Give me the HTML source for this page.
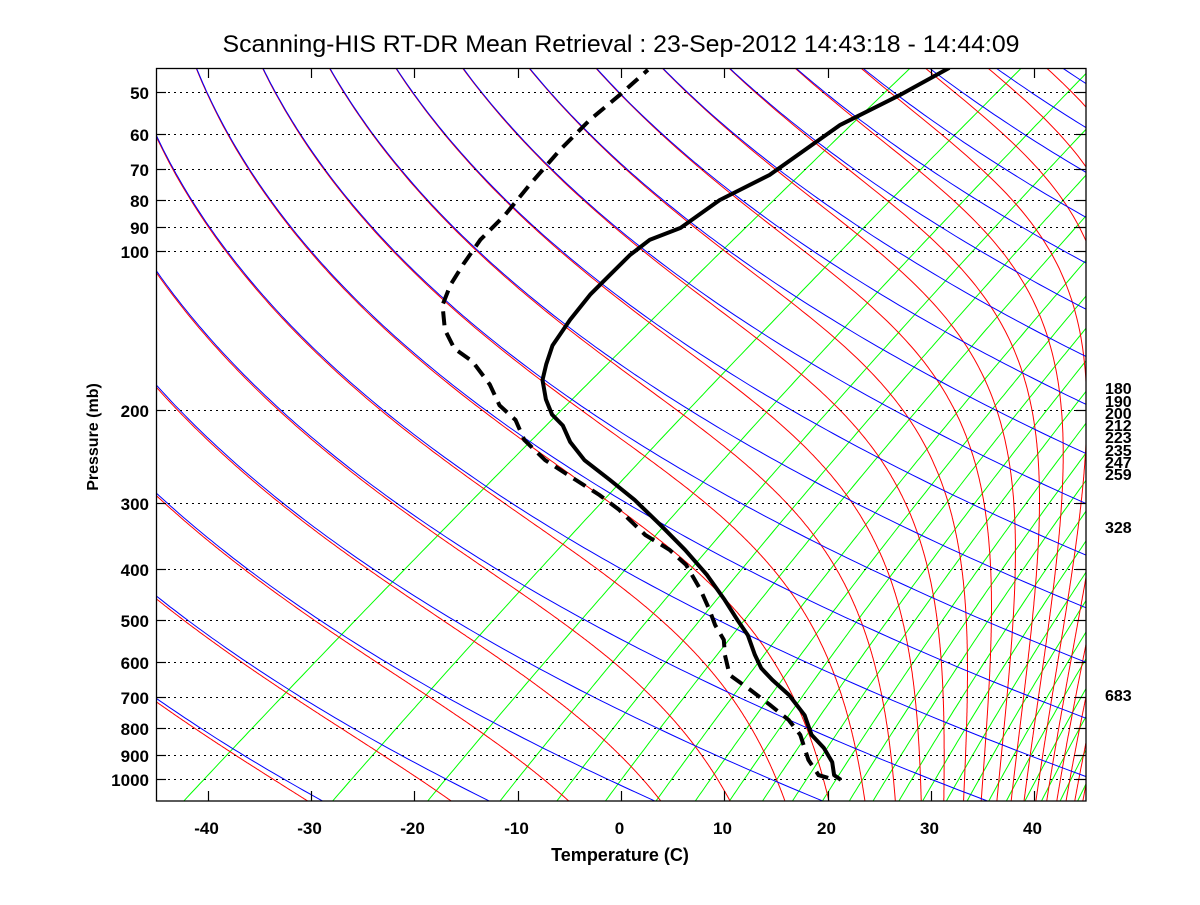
<!DOCTYPE html>
<html><head><meta charset="utf-8"><style>
html,body{margin:0;padding:0;background:#fff;}
svg text{font-family:"Liberation Sans",Arial,sans-serif;}
</style></head><body>
<svg id="chart" width="1200" height="900" viewBox="0 0 1200 900" xmlns="http://www.w3.org/2000/svg">
<rect x="0" y="0" width="1200" height="900" fill="#fff"/>
<defs><clipPath id="plotclip"><rect x="156" y="68" width="930" height="733"/></clipPath></defs>
<text x="621" y="52" font-size="24" text-anchor="middle" textLength="797" lengthAdjust="spacingAndGlyphs">Scanning-HIS RT-DR Mean Retrieval : 23-Sep-2012 14:43:18 - 14:44:09</text>
<g id="bg" clip-path="url(#plotclip)"></g>
<g id="grid"></g>
<g id="prof" clip-path="url(#plotclip)"></g>
<g id="axes"></g>
<text x="620" y="861" font-size="18" font-weight="bold" text-anchor="middle">Temperature (C)</text>
<text transform="translate(98,437) rotate(-90)" font-size="16" font-weight="bold" text-anchor="middle">Pressure (mb)</text>
<g id="rlab"></g>
</svg>
<script>
// ---- data ----
const tempP = [1004,983,929,873,825,757,693,649,617,582,534,500,458,411,368,330,296,271.5,249,230,214,204,191,175.5,164,151,135,121,111,101.8,95.2,90.4,80.1,71.8,57.7,50.7,45.0];
const tempT = [21.4,20.1,18.2,15.5,12.6,9.3,5.1,1.5,-1.1,-3.5,-6.8,-9.8,-13.7,-18.7,-24.2,-29.9,-35.7,-40.7,-45.8,-49.6,-52.5,-55.0,-57.6,-60.5,-62.2,-64.1,-65.8,-67.2,-67.9,-68.6,-68.7,-67.3,-67.2,-65.7,-65.5,-63.7,-62.5];
const dewP = [995,983,920,825,773,724,678,635,582,545,511,479,438,393,368,345,309,290,271.5,249,228,209,196,179,162,153,141,126.6,116,106,95.2,85.5,75.0,64.4,56.5,50.7,45.4];
const dewT = [19.9,18.6,15.6,11.5,8.4,4.6,0.7,-3.3,-6.4,-8.5,-11.3,-13.8,-17.4,-22.1,-25.7,-30.0,-35.9,-39.7,-44.0,-49.6,-54.3,-57.8,-61.3,-65.0,-69.7,-73.2,-76.6,-80.1,-82.0,-83.5,-85.1,-86.0,-87.6,-89.3,-90.4,-90.8,-91.4];
const pTicks = [50,60,70,80,90,100,200,300,400,500,600,700,800,900,1000];
const tTicks = [-40,-30,-20,-10,0,10,20,30,40];
const thetaDry = [193.6,209.2,224.8,240.5,256.2,271.8,287.6,303.1,318.8,334.5,350.1,365.8,381.4,397.1,412.7,428.4,444,459.7,475.3,491,506.6,522.3,537.9,553.6];
const thetaMoist = [193.6,209.2,224.8,240.5,256.2,271.8,287.6,303.1,318.8,334.5,350.1,365.8,381.4,397.1,412.7,428.4,444,459.7,475.3,491,506.6,522.3,537.9,553.6,569.2,584.9,600.5,616.2];
const mixBottomT = [-42.3,-27.9,-18.7,-11.7,-6.2,-1.5,3.4,7.2,10.5,13.7,16.6,19.5,22.1,24.4,26.9,29.2,31.5,33.5,35.6,37.3,39.1,40.7,42.5,44.2];
const rightLabels = ["180","190","200","212","223","235","247","259","328","683"];
const rightLabelY = [388,401,413,425,437,450,462,474,527,695];

// ---- axes ----
const SKEW = 70, X0 = 621, XS = 930/90, Y1000 = 779, YDEC = 528;
function xAxis(t){ return X0 + XS*t; }
function yAxis(p){ return Y1000 - YDEC*Math.log10(1000/p); }
function xSkew(t,p){ return xAxis(t + SKEW*Math.log10(1000/p)); }
const NS='http://www.w3.org/2000/svg';
function mk(tag, attrs, parent){ const e=document.createElementNS(NS,tag); for(const k in attrs) e.setAttribute(k,attrs[k]); parent.appendChild(e); return e; }
function ptsStr(arr){ return arr.map(a=>a[0].toFixed(1)+','+a[1].toFixed(1)).join(' '); }

const bg=document.getElementById('bg');
// pressure levels for background curves
const levels=[]; for(let p=1100;p>=40;p*=0.985) levels.push(p); levels.push(40);

// mixing-ratio lines (green)
function es(tc){ return 6.112*Math.exp(17.67*tc/(tc+243.5)); }
mixBottomT.forEach((tb,i)=>{
  const td = tb + SKEW*Math.log10(1000/1100)*(-1)*(-1); // bottom axis -> actual at 1100
  const tdAct = tb - SKEW*Math.log10(1000/1100);
  const e = es(tdAct); const w = 622*e/(1100-e);
  const pts = levels.map(p=>{ const ee=w*p/(622+w); const l=Math.log(ee/6.112); const t=243.5*l/(17.67-l); return [xSkew(t,p), yAxis(p)]; });
  const el=mk('polyline',{points:ptsStr(pts),fill:'none',stroke:'#00ff00','stroke-width':1},bg);
  
  
});
// moist adiabats (red)
function moist(theta){
  let p=20, T=theta*Math.pow(p/1000,0.286); const out=[];
  const Rd=287.04, cp=1005.7, Lv=2.5e6, eps=0.622;
  function dTdp(p,T){ const tc=T-273.15; const e=Math.min(es(tc),p*0.6); const rs=eps*e/(p-e); return (Rd*T+Lv*rs)/(p*(cp+Lv*Lv*rs*eps/(Rd*T*T))); }
  out.push([p,T]);
  while(p<1100){ const dp=Math.min(2,1100-p); const k1=dTdp(p,T); const k2=dTdp(p+dp,T+k1*dp); T+=0.5*(k1+k2)*dp; p+=dp; out.push([p,T]); if(T>400) break; }
  return out;
}
thetaMoist.forEach(th=>{
  const pts = moist(th).filter(a=>a[0]>=40).map(a=>[xSkew(a[1]-273.15,a[0]), yAxis(a[0])]);
  const el=mk('polyline',{points:ptsStr(pts),fill:'none',stroke:'#ff0000','stroke-width':1},bg);
  
  
});
// dry adiabats (blue)
thetaDry.forEach(th=>{
  const pts = levels.map(p=>[xSkew(th*Math.pow(p/1000,0.286)-273.15,p), yAxis(p)]);
  const el=mk('polyline',{points:ptsStr(pts),fill:'none',stroke:'#0000ff','stroke-width':1},bg);
  
  
});

// gridlines, ticks
const grid=document.getElementById('grid'), axes=document.getElementById('axes');
pTicks.forEach(p=>{
  const y=Math.round(yAxis(p))+0.5;
  const g=mk('line',{x1:156,x2:1086,y1:y,y2:y,stroke:'#000','stroke-width':1,'stroke-dasharray':'2,4'},grid);
  
  
  mk('line',{x1:156,x2:166,y1:y,y2:y,stroke:'#000','stroke-width':1.2},axes);
  mk('line',{x1:1076,x2:1086,y1:y,y2:y,stroke:'#000','stroke-width':1.2},axes);
  const t=mk('text',{x:149,y:y+6.5,'font-size':17,'font-weight':'bold','text-anchor':'end'},axes);
  t.textContent=String(p);
  
  
});
tTicks.forEach(v=>{
  const x=Math.round(xAxis(v))+0.5;
  mk('line',{x1:x,x2:x,y1:801,y2:791,stroke:'#000','stroke-width':1.2},axes);
  mk('line',{x1:x,x2:x,y1:68,y2:78,stroke:'#000','stroke-width':1.2},axes);
  const t=mk('text',{x:x-2,y:834,'font-size':17,'font-weight':'bold','text-anchor':'middle'},axes);
  t.textContent=String(v);
  
  
});
const frame=mk('rect',{x:156.5,y:68.5,width:929.5,height:732.5,fill:'none',stroke:'#000','stroke-width':1.3},axes);



// profiles
const prof=document.getElementById('prof');
const tLine=mk('polyline',{points:ptsStr(tempP.map((p,i)=>[xSkew(tempT[i],p),yAxis(p)])),fill:'none',stroke:'#000','stroke-width':4,'stroke-linejoin':'round'},prof);


const dLine=mk('polyline',{points:ptsStr(dewP.map((p,i)=>[xSkew(dewT[i],p),yAxis(p)])),fill:'none',stroke:'#000','stroke-width':4,'stroke-dasharray':'14,8'},prof);



// right labels
const rl=document.getElementById('rlab');
rightLabels.forEach((s,i)=>{
  const t=mk('text',{x:1105,y:rightLabelY[i]+6,'font-size':16,'font-weight':'bold'},rl);
  t.textContent=s;
  
  
});
</script>
</body></html>
